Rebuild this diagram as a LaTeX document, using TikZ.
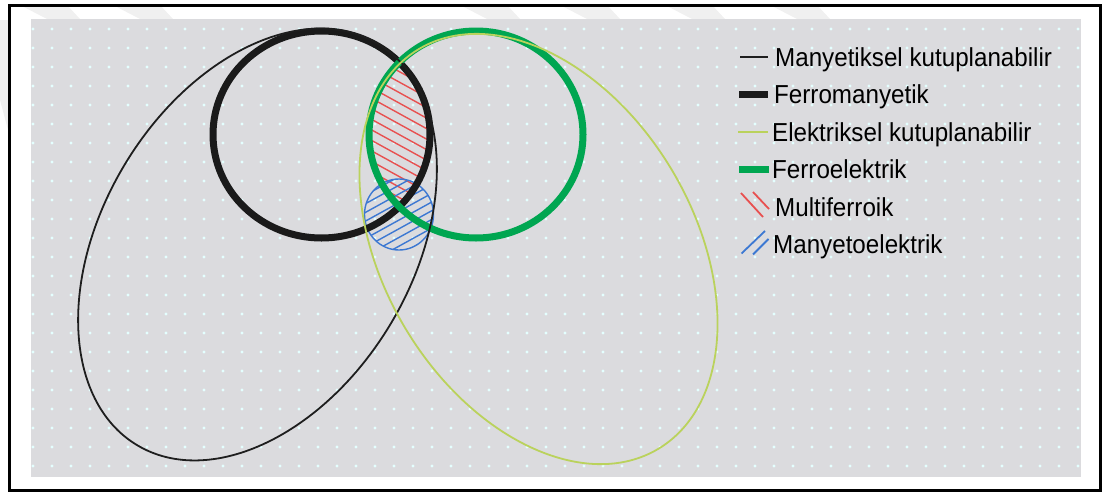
\documentclass[tikz,border=0pt]{standalone}
\usepackage{fontspec}
\setmainfont{Liberation Sans}
\begin{document}
\begin{tikzpicture}[x=1pt,y=-1pt,
  panel/.style={fill={rgb,255:red,219;green,219;blue,222}},
  gridDot/.style={fill={rgb,255:red,228;green,255;blue,255}},
  wmark/.style={fill={rgb,255:red,240;green,240;blue,240}},
  frameline/.style={draw=black,line width=3pt},
  thinblack/.style={draw={rgb,255:red,30;green,30;blue,30},line width=1.8pt},
  thinyellow/.style={draw={rgb,255:red,186;green,210;blue,92},line width=1.8pt},
  thickblack/.style={draw={rgb,255:red,26;green,26;blue,26},line width=7pt},
  thickgreen/.style={draw={rgb,255:red,0;green,166;blue,81},line width=7pt},
  redhatch/.style={draw={rgb,255:red,232;green,80;blue,80},line width=1.4pt},
  bluehatch/.style={draw={rgb,255:red,60;green,120;blue,210},line width=1.4pt},
  legtext/.style={anchor=base west,inner sep=0pt,font=\fontsize{26}{30}\selectfont}]
\useasboundingbox (0,0) rectangle (1105,493);

% faint diagonal marks above the panel
\foreach \s in {20,113,460,560,665,770}
  \fill[wmark] (\s,5) -- (\s+47,5) -- (\s+60,19) -- (\s+27,19) -- cycle;
\fill[wmark] (0,20) -- (8,20) -- (8,130) -- (0,100) -- cycle;

% dotted grey panel
\fill[panel] (31,19) rectangle (1081,477);
\foreach \i in {0,...,55}
  \foreach \j in {0,...,23}
    \fill[gridDot] (33+19*\i,29+19*\j) circle (1.6pt);

% outer frame
\draw[frameline] (9.5,5.5) rectangle (1100.5,490.5);

% centres of the sets
\coordinate (cM) at (257.5,244.5);
\coordinate (cFM) at (321.5,134.5);
\coordinate (cE) at (538.5,249);
\coordinate (cFE) at (476,134.5);
\coordinate (cME) at (399,214.5);

% multiferroic lens: ferromagnetic and ferroelectric overlap
\begin{scope}
  \clip (cFM) ellipse (108.5pt and 103.5pt);
  \clip (cFE) ellipse (107pt and 103.5pt);
  \foreach \c in {-40,-29.5,...,240}
    \draw[redhatch] (330,\c) -- (470,\c+77);
\end{scope}

% magnetoelectric region
\begin{scope}
  \clip (cME) ellipse (34.5pt and 35.5pt);
  \foreach \c in {160,168.7,...,320}
    \draw[bluehatch] (350,\c) -- (450,\c-55);
\end{scope}
\draw[bluehatch] (cME) ellipse (34.5pt and 35.5pt);

% ferroic circles
\draw[thickblack] (cFM) ellipse (108.5pt and 103.5pt);
\draw[thickgreen] (cFE) ellipse (107pt and 103.5pt);

% polarisable sets
\draw[thinblack, rotate around={59:(cM)}] (cM) ellipse (234pt and 155pt);
\draw[thinyellow, rotate around={-59:(cE)}] (cE) ellipse (233pt and 155pt);

% legend
\draw[thinblack,line width=1.6pt] (740,57) -- (768,57);
\node[legtext] (lM) at (775,66) {\scalebox{0.93}[1]{Manyetiksel kutuplanabilir}};
\draw[thickblack] (739,94.2) -- (768,94.2);
\node[legtext] (lFM) at (774,103.5) {\scalebox{0.93}[1]{Ferromanyetik}};
\draw[thinyellow,line width=1.6pt] (738,131.7) -- (768,131.7);
\node[legtext] (lE) at (772,141) {\scalebox{0.93}[1]{Elektriksel kutuplanabilir}};
\draw[thickgreen] (739,169.2) -- (769,169.2);
\node[legtext] (lFE) at (772,178.5) {\scalebox{0.93}[1]{Ferroelektrik}};
\draw[redhatch,line width=1.8pt] (741,193) -- (763,217);
\draw[redhatch,line width=1.8pt] (753,192) -- (769,209);
\node[legtext] (lMF) at (775,216) {\scalebox{0.93}[1]{Multiferroik}};
\draw[bluehatch,line width=1.8pt] (741.5,253.5) -- (765,231);
\draw[bluehatch,line width=1.8pt] (753,254.5) -- (768.5,239);
\node[legtext] (lME) at (773,253.5) {\scalebox{0.93}[1]{Manyetoelektrik}};
\end{tikzpicture}
\end{document}
